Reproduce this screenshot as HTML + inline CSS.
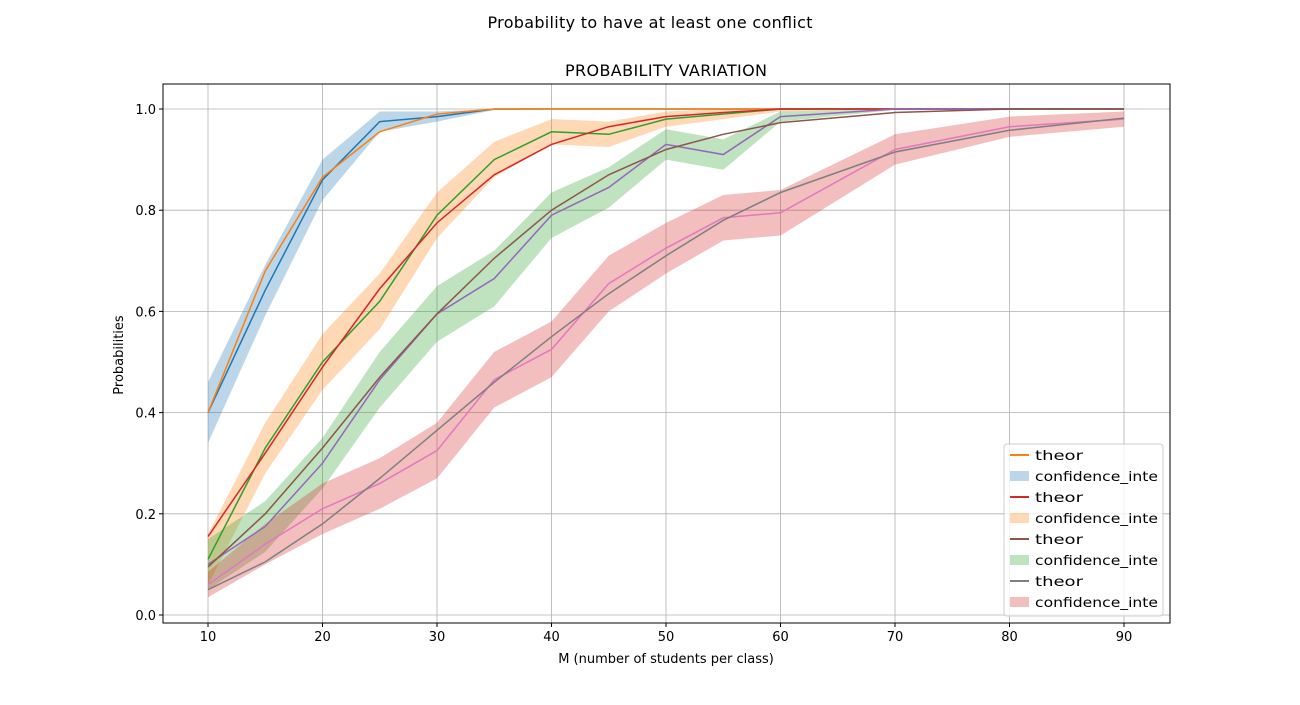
<!DOCTYPE html>
<html><head><meta charset="utf-8"><style>
body{margin:0;background:#fff;font-family:"Liberation Sans","DejaVu Sans",sans-serif;}
svg text{font-family:"DejaVu Sans","Liberation Sans",sans-serif;}
</style></head><body>
<svg id="chart" width="1300" height="700" xmlns="http://www.w3.org/2000/svg"></svg>
<script>
const xs=[10,15,20,25,30,35,40,45,50,55,60,70,80,90];
const sim1=[0.40,0.642,0.86,0.975,0.985,1.0,1,1,1,1,1,1,1,1];
const theor1=[0.40,0.68,0.865,0.955,0.99,1.0,1,1,1,1,1,1,1,1];
const hw1=[0.06,0.05,0.04,0.02,0.01,0.002,0.001,0,0,0,0,0,0,0];
const sim2=[0.11,0.33,0.50,0.62,0.79,0.90,0.955,0.95,0.98,0.99,1,1,1,1];
const theor2=[0.155,0.32,0.49,0.645,0.775,0.87,0.93,0.965,0.985,0.993,1,1,1,1];
const hw2=[0.05,0.05,0.055,0.055,0.045,0.035,0.025,0.025,0.015,0.01,0.005,0,0,0];
const sim3=[0.10,0.175,0.30,0.465,0.595,0.665,0.79,0.845,0.93,0.91,0.985,1,1,1];
const theor3=[0.095,0.20,0.33,0.47,0.595,0.705,0.80,0.87,0.92,0.95,0.973,0.993,1,1];
const hw3=[0.05,0.05,0.05,0.055,0.055,0.055,0.045,0.04,0.03,0.03,0.01,0.002,0,0];
const sim4=[0.06,0.14,0.21,0.26,0.325,0.465,0.525,0.655,0.725,0.785,0.795,0.92,0.965,0.98];
const theor4=[0.05,0.105,0.18,0.27,0.365,0.46,0.55,0.635,0.71,0.78,0.835,0.915,0.958,0.982];
const hw4=[0.025,0.04,0.05,0.05,0.055,0.055,0.055,0.055,0.05,0.045,0.045,0.03,0.02,0.015];
const xticks=[10,20,30,40,50,60,70,80,90];
const yticks=[0,0.2,0.4,0.6,0.8,1.0];
const legendLabels=["theor","confidence_inte","theor","confidence_inte","theor","confidence_inte","theor","confidence_inte"];

const L=163,R=1170,T=84,B=623;
const X=v=>208+(v-10)*(1124-208)/80;
const Y=v=>615-v*506;
const svg=document.getElementById('chart');
const NS='http://www.w3.org/2000/svg';
function mk(tag,attrs,parent){const e=document.createElementNS(NS,tag);for(const k in attrs)e.setAttribute(k,attrs[k]);(parent||svg).appendChild(e);return e;}

let t=mk('text',{x:650,y:28,'text-anchor':'middle','font-size':16,textLength:325});t.textContent='Probability to have at least one conflict';


t=mk('text',{x:666,y:76,'text-anchor':'middle','font-size':16,textLength:202});t.textContent='PROBABILITY VARIATION';



xticks.forEach(v=>{const g=mk('line',{x1:X(v),x2:X(v),y1:T,y2:B,stroke:'#b0b0b0','stroke-width':0.8});


mk('line',{x1:X(v),x2:X(v),y1:B,y2:B+4,stroke:'#000'});
const tx=mk('text',{x:X(v),y:B+18,'text-anchor':'middle','font-size':13});tx.textContent=v;

});
yticks.forEach(v=>{const g=mk('line',{x1:L,x2:R,y1:Y(v),y2:Y(v),stroke:'#b0b0b0','stroke-width':0.8});


mk('line',{x1:L-4,x2:L,y1:Y(v),y2:Y(v),stroke:'#000'});
const tx=mk('text',{x:L-7,y:Y(v)+5,'text-anchor':'end','font-size':13});tx.textContent=v.toFixed(1);

});

const groups=[[sim1,theor1,hw1,'#1f77b4','#ff7f0e','#1f77b4'],[sim2,theor2,hw2,'#2ca02c','#d62728','#ff7f0e'],[sim3,theor3,hw3,'#9467bd','#8c564b','#2ca02c'],[sim4,theor4,hw4,'#e377c2','#7f7f7f','#d62728']];
groups.forEach((g,i)=>{
 const [s,th,hw,sc,tc,bc]=g;
 const up=xs.map((x,j)=>X(x)+','+Y(Math.min(1,s[j]+hw[j])));
 const lo=xs.map((x,j)=>X(x)+','+Y(s[j]-hw[j])).reverse();
 const band=mk('polygon',{points:up.concat(lo).join(' '),fill:bc,'fill-opacity':0.3});
 
 
});
groups.forEach((g,i)=>{
 const [s,th,hw,sc,tc]=g;
 const a=mk('polyline',{points:xs.map((x,j)=>X(x)+','+Y(s[j])).join(' '),fill:'none',stroke:sc,'stroke-width':1.5});
 
 
 const b=mk('polyline',{points:xs.map((x,j)=>X(x)+','+Y(th[j])).join(' '),fill:'none',stroke:tc,'stroke-width':1.5});
 
 
});

const frame=mk('rect',{x:L,y:T,width:R-L,height:B-T,fill:'none',stroke:'#000','stroke-width':1});



t=mk('text',{x:666,y:663,'text-anchor':'middle','font-size':13});t.textContent='M (number of students per class)';


t=mk('text',{x:123,y:355,'text-anchor':'middle','font-size':13,transform:'rotate(-90 123 355)'});t.textContent='Probabilities';



const lg=mk('g',{});


mk('rect',{x:1004,y:444,width:159,height:172,rx:3,fill:'#fff','fill-opacity':0.8,stroke:'#ccc'},lg);
const lcolors=['#ff7f0e','#1f77b4','#d62728','#ff7f0e','#8c564b','#2ca02c','#7f7f7f','#d62728'];
legendLabels.forEach((lab,i)=>{
 const y=455+i*21;
 const e=mk('g',{},lg);
 
 
 if(i%2==0) mk('line',{x1:1010,x2:1029,y1:y,y2:y,stroke:lcolors[i],'stroke-width':2},e);
 else mk('rect',{x:1010,y:y-5,width:19,height:10,fill:lcolors[i],'fill-opacity':0.3},e);
 const tx=mk('text',{x:1035,y:y+5,'font-size':13,textLength:(i%2==0?48:123),lengthAdjust:'spacingAndGlyphs'},e);tx.textContent=lab;
});
</script>
</body></html>
